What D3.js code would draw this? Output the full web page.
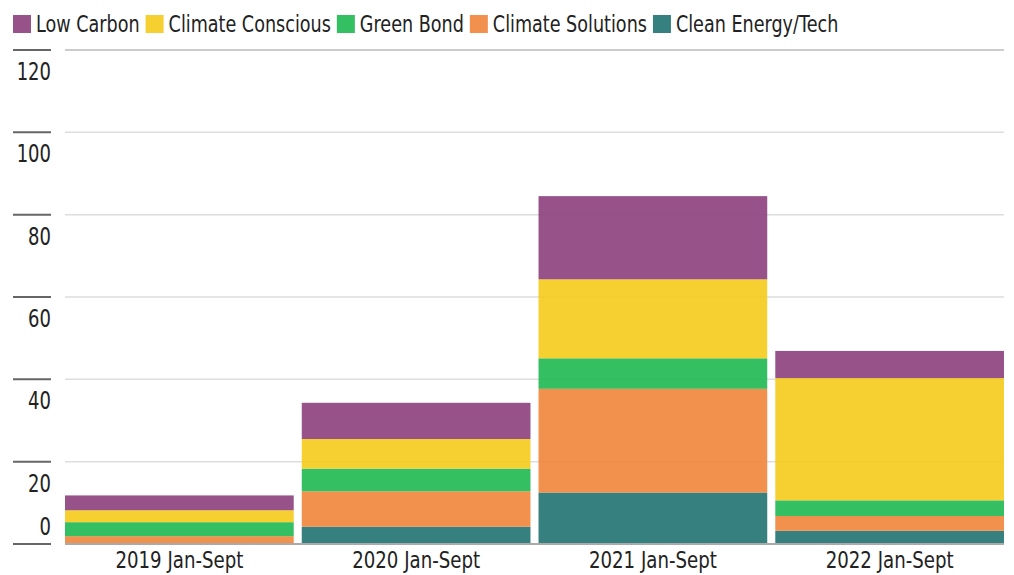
<!DOCTYPE html>
<html>
<head>
<meta charset="utf-8">
<script src="https://cdn.jsdelivr.net/npm/d3@7"></script>
<style>
  body { margin: 0; background: #fff; }
  svg text { font-family: "DejaVu Sans", sans-serif; fill: #222; }
</style>
</head>
<body>
<svg id="chart" width="1014" height="575"></svg>
<script>
const periods = ['2019 Jan-Sept', '2020 Jan-Sept', '2021 Jan-Sept', '2022 Jan-Sept'];
// stacked bottom to top
const seriesNames = ['Clean Energy/Tech', 'Climate Solutions', 'Green Bond', 'Climate Conscious', 'Low Carbon'];
const cleanEnergy = [0, 4.2, 12.5, 3.2];
const climateSolutions = [1.9, 8.6, 25.2, 3.6];
const greenBond = [3.4, 5.5, 7.4, 3.8];
const climateConscious = [2.9, 7.2, 19.2, 29.7];
const lowCarbon = [3.6, 8.8, 20.2, 6.6];
const yTicks = [0, 20, 40, 60, 80, 100, 120];
const legendOrder = ['Low Carbon', 'Climate Conscious', 'Green Bond', 'Climate Solutions', 'Clean Energy/Tech'];

const colors = {
	'Low Carbon': '#8b3f7c',
	'Climate Conscious': '#f5ca1b',
	'Green Bond': '#1eb851',
	'Climate Solutions': '#f1843b',
	'Clean Energy/Tech': '#207272',
};

const seriesValues = [cleanEnergy, climateSolutions, greenBond, climateConscious, lowCarbon];
const table = periods.map((p, i) => {
	let row = { period: p };
	seriesNames.forEach((name, j) => (row[name] = seriesValues[j][i]));
	return row;
});

const svg = d3.select('#chart');
const plotLeft = 65;
const plotRight = 1004;
const plotTop = 50;
const plotBottom = 544;

// no condensed font available, so squeeze text horizontally
const squeeze = (px, py, k) => `translate(${px},${py}) scale(${k},1)`;

const x = d3.scaleBand().domain(periods).range([plotLeft, plotRight]).paddingInner(0.034).paddingOuter(0);
const y = d3.scaleLinear().domain([0, 120]).range([plotBottom, plotTop]);

// gridlines
svg
	.append('g')
	.selectAll('line')
	.data(yTicks.filter((t) => t > 0))
	.enter()
	.append('line')
	.attr('x1', plotLeft)
	.attr('x2', plotRight)
	.attr('y1', (d) => y(d))
	.attr('y2', (d) => y(d))
	.attr('stroke', (d) => (d === 120 ? '#bbb' : '#ddd'))
	.attr('stroke-width', 1.5);

// left tick marks and labels
const yAxis = svg.append('g');
yAxis
	.selectAll('line')
	.data(yTicks)
	.enter()
	.append('line')
	.attr('x1', 13)
	.attr('x2', 51)
	.attr('y1', (d) => y(d))
	.attr('y2', (d) => y(d))
	.attr('stroke', '#666')
	.attr('stroke-width', 2);
yAxis
	.selectAll('text')
	.data(yTicks)
	.enter()
	.append('text')
	.attr('transform', (d) => squeeze(51, Math.min(y(d) + 30, 535), 0.75))
	.attr('text-anchor', 'end')
	.attr('font-size', 24)
	.text((d) => d);

// stacked bars
const stack = d3.stack().keys(seriesNames)(table);
svg
	.append('g')
	.selectAll('g')
	.data(stack)
	.enter()
	.append('g')
	.attr('fill', (s) => colors[s.key])
	.attr('fill-opacity', 0.9)
	.selectAll('rect')
	.data((s) => s)
	.enter()
	.append('rect')
	.attr('x', (d) => x(d.data.period))
	.attr('width', x.bandwidth())
	.attr('y', (d) => y(d[1]))
	.attr('height', (d) => y(d[0]) - y(d[1]));

// baseline
svg
	.append('line')
	.attr('x1', plotLeft)
	.attr('x2', plotRight)
	.attr('y1', plotBottom)
	.attr('y2', plotBottom)
	.attr('stroke', '#aaa')
	.attr('stroke-width', 2);

// x labels
svg
	.append('g')
	.selectAll('text')
	.data(periods)
	.enter()
	.append('text')
	.attr('transform', (d) => squeeze(x(d) + x.bandwidth() / 2, 568, 0.79))
	.attr('text-anchor', 'middle')
	.attr('font-size', 23)
	.text((d) => d);

// legend
const legend = svg.append('g');
let lx = 13;
legendOrder.forEach((name) => {
	legend.append('rect').attr('x', lx).attr('y', 15).attr('width', 18).attr('height', 18).attr('fill', colors[name]).attr('fill-opacity', 0.9);
	let t = legend
		.append('text')
		.attr('transform', squeeze(lx + 23, 32, 0.765))
		.attr('font-size', 23)
		.text(name);
	lx += 23 + t.node().getComputedTextLength() * 0.765 + 6;
});
</script>
</body>
</html>
